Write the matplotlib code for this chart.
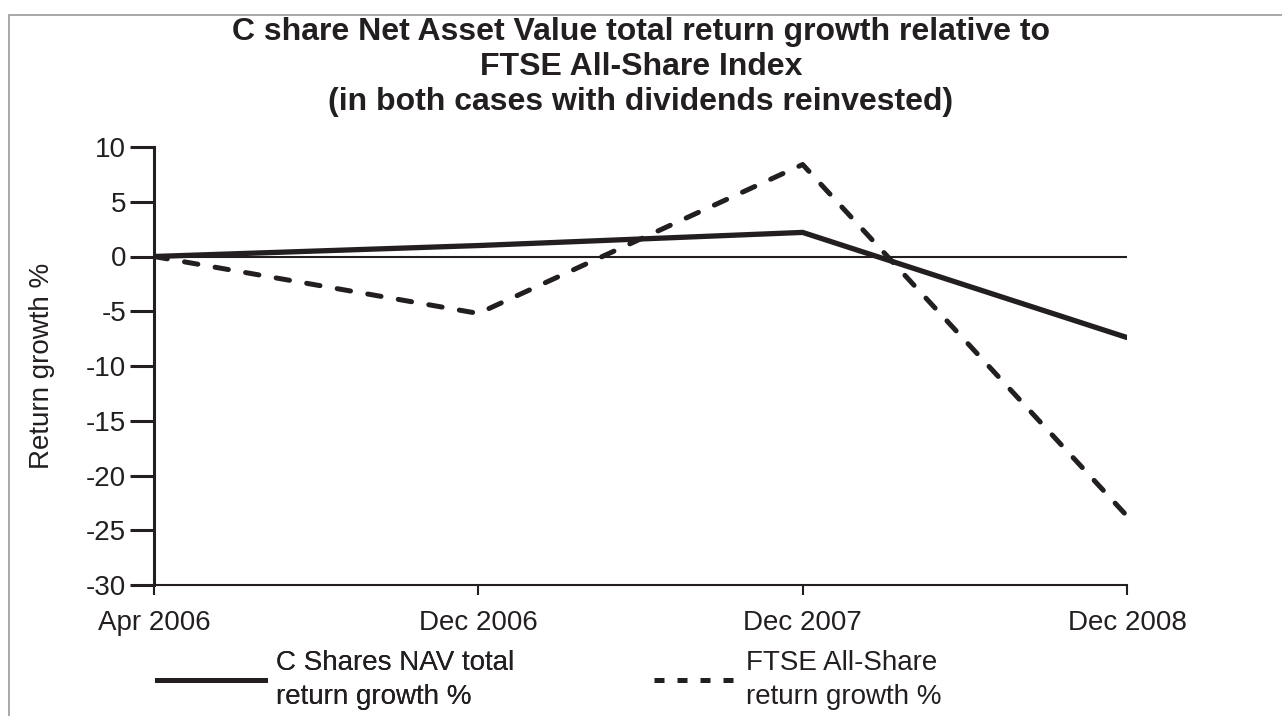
import matplotlib.pyplot as plt
from matplotlib.lines import Line2D
from matplotlib.patches import Rectangle

dates = ["Apr 2006", "Dec 2006", "Dec 2007", "Dec 2008"]
nav_growth = [0.0, 1.0, 2.2, -7.4]
ftse_growth = [0.0, -5.2, 8.4, -23.7]
y_ticks = [10, 5, 0, -5, -10, -15, -20, -25, -30]

ink = "#231f20"
plt.rcParams["font.family"] = ["Liberation Sans", "DejaVu Sans"]
plt.rcParams["text.color"] = ink

fig = plt.figure(figsize=(12.82, 7.16), dpi=100)
ax = fig.add_axes([154 / 1282, 1 - 585 / 716, (1127 - 154) / 1282, (585 - 147) / 716])

x = list(range(len(dates)))
ax.axhline(0, color=ink, lw=1.5, zorder=1)
ax.plot(x, nav_growth, color=ink, lw=3.8, solid_capstyle="round",
        solid_joinstyle="round", zorder=3)
ax.plot(x, ftse_growth, color=ink, lw=3.6, dashes=(2.7, 3.5),
        dash_capstyle="round", zorder=3)

ax.set_xlim(0, len(dates) - 1)
ax.set_ylim(-30, 10)
ax.set_xticks(x)
ax.set_xticklabels(dates)
ax.set_yticks(y_ticks)
ax.set_yticklabels([str(v) for v in y_ticks])

for side in ["top", "right"]:
    ax.spines[side].set_visible(False)
ax.spines["left"].set_linewidth(2.2)
ax.spines["bottom"].set_linewidth(1.5)
ax.spines["left"].set_color(ink)
ax.spines["bottom"].set_color(ink)
ax.tick_params(axis="y", length=17, width=2.2, pad=3, labelsize=20,
               colors=ink)
ax.tick_params(axis="x", length=7, width=1.5, pad=11, labelsize=20,
               colors=ink)
ax.set_ylabel("Return growth %", fontsize=20, labelpad=22, color=ink)

fig.text(0.5, 1 - 67 / 716, "C share Net Asset Value total return growth relative to\n"
         "FTSE All-Share Index\n(in both cases with dividends reinvested)",
         ha="center", va="center", fontsize=23, fontweight="bold",
         linespacing=1.2)

# legend (two separate entries, different handle lengths)
leg1 = fig.legend([Line2D([], [], color=ink, lw=3.6)],
                  ["C Shares NAV total\nreturn growth %"],
                  loc="center left", bbox_to_anchor=(157 / 1282, 1 - 680 / 716),
                  frameon=False, fontsize=20, handlelength=3.9,
                  handletextpad=0.4, borderpad=0, borderaxespad=0)
for t in leg1.get_texts():
    t.set_linespacing(1.45)
fig.add_artist(leg1)
leg2 = fig.legend([Line2D([], [], color=ink, lw=3.6, dashes=(2.0, 2.6),
                          dash_capstyle="butt")],
                  ["FTSE All-Share\nreturn growth %"],
                  loc="center left", bbox_to_anchor=(654 / 1282, 1 - 680 / 716),
                  frameon=False, fontsize=20, handlelength=3.05,
                  handletextpad=0.25, borderpad=0, borderaxespad=0)
for t in leg2.get_texts():
    t.set_linespacing(1.45)

# light frame around the figure (open right/bottom)
fig.add_artist(Rectangle((9 / 1282, -0.5), 2, 0.5 + 1 - 15 / 716,
                         transform=fig.transFigure, fill=False,
                         edgecolor="#9a9a9a", lw=1.2, clip_on=False))

fig.savefig("out.png", dpi=100)
